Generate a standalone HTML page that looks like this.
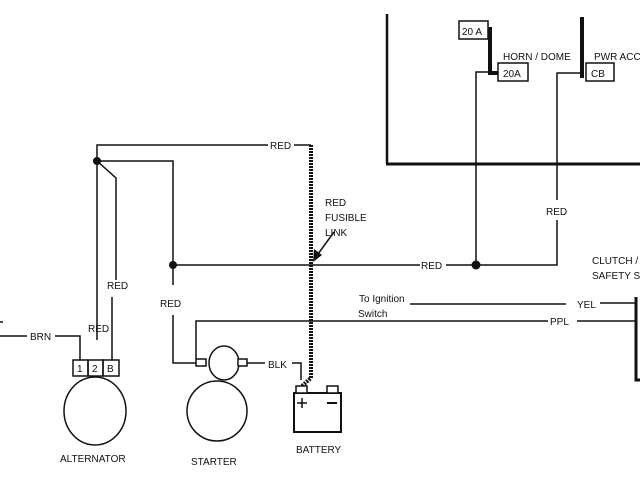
<!DOCTYPE html>
<html><head><style>
body{margin:0;background:#fff}
svg{display:block}
text{font-family:"Liberation Sans",Arial,sans-serif;font-size:10px;fill:#111}
</style></head><body>
<svg width="640" height="480" viewBox="0 0 640 480" xmlns="http://www.w3.org/2000/svg">
<g stroke="#111" fill="none" stroke-width="1.5">
<!-- top right panel -->
<line x1="387" y1="14" x2="387" y2="164" stroke-width="2.5"/>
<line x1="386" y1="164" x2="640" y2="164" stroke-width="3"/>
<rect x="459" y="21" width="29" height="18" fill="#fff"/>
<path d="M490 27 V73 H498" stroke-width="4"/>
<rect x="498" y="63" width="30" height="18" fill="#fff"/>
<path d="M490 72 H476 V265"/>
<line x1="582" y1="17" x2="582" y2="78" stroke-width="4"/>
<rect x="586" y="63" width="28" height="18" fill="#fff"/>
<path d="M584 73 H557 V200"/>
<path d="M557 220 V265 H446"/>
<!-- left wiring -->
<path d="M268 145 H97 V340"/>
<line x1="294" y1="145" x2="311" y2="145"/>
<path d="M97 161 H173 V285"/>
<path d="M97 161 L116 178 V280"/>
<line x1="112" y1="297" x2="112" y2="360"/>
<path d="M173 315 V363 H196"/>
<line x1="173" y1="265" x2="420" y2="265"/>
<path d="M0 336 H27"/>
<path d="M55 336 H80 V360"/>
<!-- fusible link -->
<path d="M311 145 V378 L302 386" stroke-width="4" stroke-dasharray="2 1"/>
<line x1="334" y1="232" x2="318" y2="254"/>
<!-- starter -->
<ellipse cx="224" cy="363" rx="15" ry="17"/>
<circle cx="217" cy="411" r="30"/>
<rect x="196" y="359" width="10" height="7" fill="#fff"/>
<rect x="238" y="359" width="9" height="7" fill="#fff"/>
<line x1="247" y1="363" x2="265" y2="363"/>
<path d="M292 363 H301 V380"/>
<!-- alternator -->
<rect x="73" y="360" width="15" height="16"/>
<rect x="88" y="360" width="15" height="16"/>
<rect x="103" y="360" width="16" height="16"/>
<ellipse cx="95" cy="411" rx="31" ry="34"/>
<!-- PPL / YEL -->
<path d="M196 359 V321 H548"/>
<line x1="577" y1="321" x2="636" y2="321"/>
<line x1="410" y1="304" x2="566" y2="304"/>
<line x1="600" y1="303" x2="636" y2="303"/>
<path d="M636 297 V380 H640" stroke-width="3"/>
<line x1="0" y1="322" x2="3" y2="322"/>
<!-- battery -->
<rect x="294" y="393" width="47" height="39" stroke-width="2"/>
<rect x="296" y="386" width="11" height="7" fill="#fff"/>
<rect x="327" y="386" width="11" height="7" fill="#fff"/>
<line x1="302" y1="398" x2="302" y2="408"/>
<line x1="297" y1="403" x2="307" y2="403"/>
<line x1="327" y1="403" x2="337" y2="403" stroke-width="2"/>
</g>
<g fill="#111">
<circle cx="97" cy="161" r="4"/>
<circle cx="173" cy="265" r="4"/>
<circle cx="476" cy="265" r="4.5"/>
<polygon points="313,262 314,249 322,255"/>
</g>
<text x="462" y="35">20 A</text>
<text x="503" y="77">20A</text>
<text x="591" y="77">CB</text>
<text x="503" y="60">HORN / DOME</text>
<text x="594" y="60">PWR ACC</text>
<text x="546" y="215">RED</text>
<text x="270" y="149">RED</text>
<text x="421" y="269">RED</text>
<text x="325" y="206">RED</text>
<text x="325" y="221">FUSIBLE</text>
<text x="325" y="236">LINK</text>
<text x="107" y="289">RED</text>
<text x="88" y="332">RED</text>
<text x="160" y="307">RED</text>
<text x="30" y="340">BRN</text>
<text x="77" y="372">1</text>
<text x="92" y="372">2</text>
<text x="107" y="372">B</text>
<text x="268" y="368">BLK</text>
<text x="359" y="302">To Ignition</text>
<text x="358" y="317">Switch</text>
<text x="550" y="325">PPL</text>
<text x="577" y="308">YEL</text>
<text x="592" y="264">CLUTCH /</text>
<text x="592" y="279">SAFETY S</text>
<text x="60" y="462">ALTERNATOR</text>
<text x="191" y="465">STARTER</text>
<text x="296" y="453">BATTERY</text>
</svg>
</body></html>
